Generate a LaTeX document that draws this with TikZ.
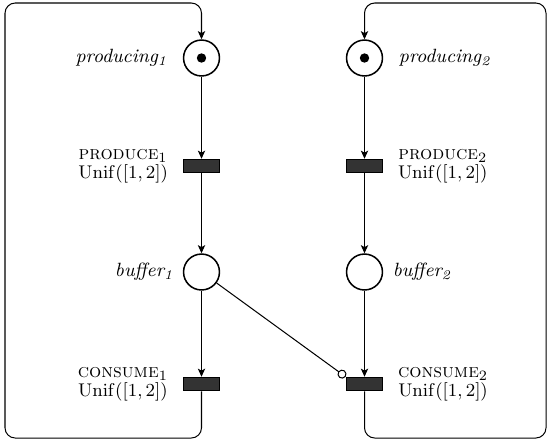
\documentclass[tikz,border=0pt]{standalone}
\usetikzlibrary{arrows.meta,positioning}
\begin{document}
\begin{tikzpicture}[x=0.49pt,y=-0.49pt,
  place/.style={circle,draw,line width=0.75pt,minimum size=17.6pt,inner sep=0pt},
  trans/.style={rectangle,draw,fill=black!80,line width=0.5pt,minimum width=18pt,minimum height=6.6pt,inner sep=0pt},
  token/.style={circle,fill=black,minimum size=4.6pt,inner sep=0pt},
  arc/.style={line width=0.5pt},
  arr/.style={arc,-{Stealth[length=4pt,width=3.6pt,inset=1pt]}},
  lbl/.style={inner sep=0pt,font=\fontsize{9.4pt}{11pt}\selectfont},
  tlbl/.style={inner sep=0pt,align=center,font=\fontsize{9.4pt}{9.4pt}\selectfont}]
\useasboundingbox (0,0) rectangle (551,440);
% left column
\node[place] (p1) at (201.5,58) {};
\node[token] (k1) at (p1) {};
\node[trans] (t1) at (201.5,166) {};
\node[place] (b1) at (201.5,272) {};
\node[trans] (c1) at (201.5,384) {};
% right column
\node[place] (p2) at (364.5,58) {};
\node[token] (k2) at (p2) {};
\node[trans] (t2) at (364.5,166) {};
\node[place] (b2) at (364.5,272) {};
\node[trans] (c2) at (364.5,384) {};
% labels
\node[lbl,left=7.5pt of p1] (lp1) {\textit{producing\textsubscript{1}}};
\node[lbl,right=7.5pt of p2] (lp2) {\textit{producing\textsubscript{2}}};
\node[lbl,left=4.5pt of b1] (lb1) {\textit{buffer\textsubscript{1}}};
\node[lbl,right=4.5pt of b2] (lb2) {\textit{buffer\textsubscript{2}}};
\node[tlbl,left=7pt of t1] (lt1) {\textsc{produce}$_1$\\$\mathrm{Unif}([1,2])$};
\node[tlbl,right=7pt of t2] (lt2) {\textsc{produce}$_2$\\$\mathrm{Unif}([1,2])$};
\node[tlbl,left=7pt of c1] (lc1) {\textsc{consume}$_1$\\$\mathrm{Unif}([1,2])$};
\node[tlbl,right=7pt of c2] (lc2) {\textsc{consume}$_2$\\$\mathrm{Unif}([1,2])$};
% loop corners
\coordinate (lbot) at (5,438);
\coordinate (ltop) at (5,3);
\coordinate (rbot) at (546,438);
\coordinate (rtop) at (546,3);
% arcs
\draw[arr] (p1) -- (t1);
\draw[arr] (t1) -- (b1);
\draw[arr] (b1) -- (c1);
\draw[arr] (p2) -- (t2);
\draw[arr] (t2) -- (b2);
\draw[arr] (b2) -- (c2);
\draw[arr,rounded corners=5pt] (c1) |- (lbot) -- (ltop) -| (p1);
\draw[arr,rounded corners=5pt] (c2) |- (rbot) -- (rtop) -| (p2);
\draw[arc,-{Circle[open,length=4.4pt,line width=0.5pt]}] (b1) -- (c2.north west);
\end{tikzpicture}
\end{document}
